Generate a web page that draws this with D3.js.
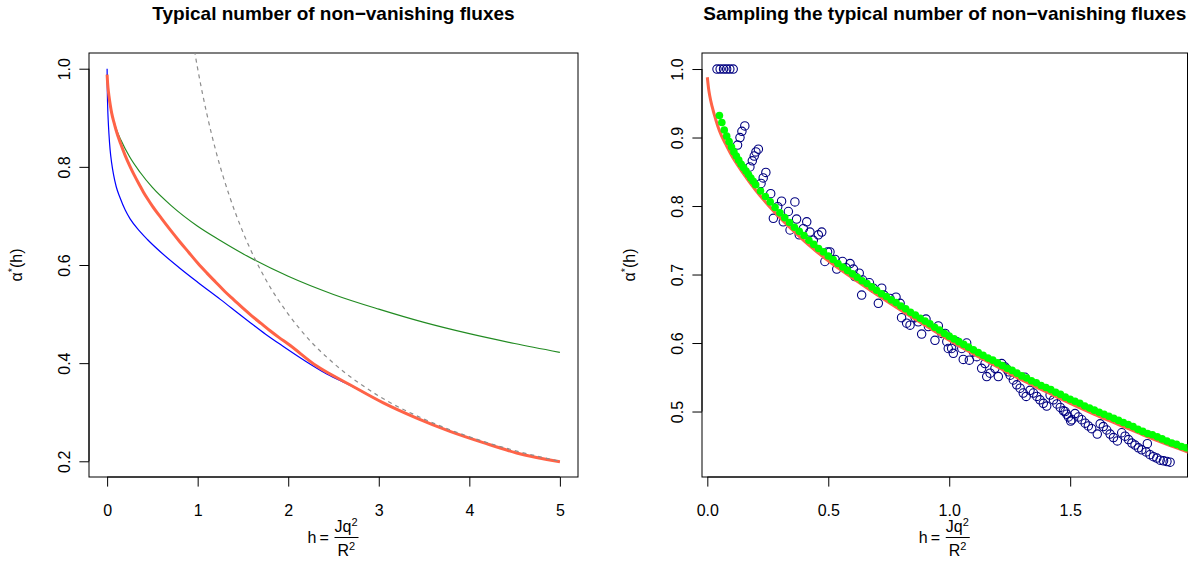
<!DOCTYPE html>
<html>
<head>
<meta charset="utf-8">
<script src="https://cdn.jsdelivr.net/npm/d3@7"></script>
<style>
  body { margin: 0; background: #fff; }
  svg { display: block; font-family: "Liberation Sans", Arial, sans-serif; }
</style>
</head>
<body>
<svg id="chart" width="1204" height="563"></svg>
<script>
// ---- data ----
// red curve alpha*(h), shared by both panels
const redH = [0, 0.005, 0.01, 0.02, 0.035, 0.05, 0.075, 0.1, 0.15, 0.2, 0.25, 0.3, 0.364, 0.4, 0.45, 0.5,
  0.6, 0.7, 0.8, 0.9, 1.0, 1.1, 1.2, 1.3, 1.4, 1.5, 1.6, 1.7, 1.8, 1.9, 2.0,
  2.315, 2.682, 3.05, 3.418, 3.786, 4.154, 4.522, 5.0];
const redV = [0.988, 0.972, 0.961, 0.945, 0.926, 0.910, 0.891, 0.874, 0.847, 0.823, 0.802, 0.783, 0.761, 0.749, 0.734, 0.720,
  0.695, 0.671, 0.648, 0.626, 0.604, 0.584, 0.565, 0.546, 0.529, 0.512, 0.496, 0.481, 0.466, 0.452, 0.439,
  0.394, 0.356, 0.319, 0.288, 0.261, 0.238, 0.217, 0.199];

// left panel: blue approximation
const blueH = [0, 0.002, 0.006, 0.012, 0.02, 0.033, 0.05, 0.07, 0.1, 0.143, 0.2, 0.254, 0.364, 0.445, 0.6, 0.8,
  1.0, 1.25, 1.5, 1.578, 1.75, 1.946, 2.2, 2.425, 2.682, 3.05, 3.418, 3.786, 4.154, 4.522, 5.0];
const blueV = [1.0, 0.96, 0.925, 0.895, 0.868, 0.835, 0.808, 0.785, 0.760, 0.737, 0.712, 0.694, 0.668, 0.652, 0.625, 0.594,
  0.565, 0.530, 0.494, 0.483, 0.459, 0.434, 0.403, 0.378, 0.355, 0.319, 0.288, 0.261, 0.238, 0.217, 0.199];

// left panel: green approximation
const greenLH = [0, 0.005, 0.015, 0.033, 0.06, 0.1, 0.151, 0.25, 0.364, 0.5, 0.714, 1.0, 1.25, 1.5, 2.0, 2.5, 3.0, 3.5, 4.0, 4.5, 5.0];
const greenLV = [0.988, 0.966, 0.946, 0.924, 0.902, 0.878, 0.855, 0.820, 0.789, 0.758, 0.720, 0.679, 0.650, 0.623, 0.577, 0.540, 0.510, 0.483, 0.460, 0.440, 0.422];

// left panel: dashed asymptote
const dashH = [0.95, 1.0, 1.1, 1.2, 1.35, 1.5, 1.75, 2.0, 2.25, 2.5, 3.0, 3.5, 4.0, 4.5, 5.0];
const dashV = [1.053, 1.0, 0.909, 0.833, 0.741, 0.667, 0.571, 0.5, 0.444, 0.4, 0.333, 0.286, 0.25, 0.222, 0.2];

// right panel: sampled values (open circles)
const sampH = [0.040, 0.053, 0.067, 0.080, 0.093, 0.107,
  0.125, 0.135, 0.143, 0.155, 0.176, 0.186, 0.194, 0.201, 0.211, 0.222, 0.231, 0.242,
  0.262, 0.273, 0.291, 0.307, 0.314, 0.335, 0.342, 0.362, 0.369, 0.380, 0.397, 0.411, 0.424, 0.438, 0.459, 0.473,
  0.486, 0.497, 0.507, 0.528, 0.535, 0.559, 0.573, 0.590, 0.604, 0.610, 0.628, 0.638, 0.642, 0.670, 0.686, 0.707,
  0.721, 0.730, 0.755, 0.780, 0.797, 0.803, 0.824, 0.838, 0.859, 0.872, 0.886, 0.904, 0.914, 0.941, 0.955, 0.969,
  0.983, 0.990, 0.996, 1.010, 1.017, 1.031, 1.052, 1.058, 1.072, 1.083, 1.100, 1.114, 1.134, 1.148, 1.155, 1.169,
  1.189, 1.203, 1.217, 1.231, 1.238, 1.245, 1.252, 1.265, 1.279, 1.293, 1.306, 1.313, 1.318, 1.334, 1.348, 1.362,
  1.375, 1.389, 1.403, 1.417, 1.431, 1.445, 1.459, 1.472, 1.479, 1.486, 1.493, 1.502, 1.507, 1.520, 1.534, 1.548,
  1.562, 1.575, 1.589, 1.612, 1.624, 1.637, 1.651, 1.665, 1.679, 1.695, 1.713, 1.727, 1.741, 1.755, 1.768, 1.782,
  1.796, 1.814, 1.819, 1.830, 1.844, 1.858, 1.872, 1.886, 1.900, 1.913];
const sampV = [1.0, 1.0, 1.0, 1.0, 1.0, 1.0,
  0.889, 0.900, 0.909, 0.917, 0.857, 0.866, 0.873, 0.879, 0.883, 0.833, 0.841, 0.849,
  0.818, 0.782, 0.799, 0.807, 0.777, 0.792, 0.765, 0.806, 0.781, 0.758, 0.767, 0.777, 0.762, 0.750, 0.758, 0.762,
  0.719, 0.733, 0.733, 0.722, 0.708, 0.719, 0.710, 0.716, 0.708, 0.697, 0.702, 0.670, 0.692, 0.688, 0.680, 0.658,
  0.680, 0.670, 0.665, 0.667, 0.658, 0.637, 0.629, 0.626, 0.637, 0.631, 0.613, 0.635, 0.624, 0.604, 0.625, 0.614,
  0.614, 0.602, 0.592, 0.592, 0.585, 0.602, 0.592, 0.576, 0.600, 0.575, 0.587, 0.580, 0.563, 0.570, 0.551, 0.556,
  0.563, 0.551, 0.570, 0.565, 0.562, 0.558, 0.553, 0.546, 0.539, 0.534, 0.527, 0.550, 0.522, 0.531, 0.527, 0.522,
  0.517, 0.512, 0.508, 0.524, 0.517, 0.511, 0.506, 0.501, 0.500, 0.496, 0.492, 0.486, 0.488, 0.497, 0.492, 0.488,
  0.483, 0.479, 0.475, 0.467, 0.482, 0.478, 0.473, 0.467, 0.462, 0.457, 0.469, 0.464, 0.459, 0.454, 0.451, 0.447,
  0.444, 0.441, 0.453, 0.437, 0.434, 0.432, 0.429, 0.428, 0.427, 0.426];

// right panel: averaged values (filled green dots)
const avgH = [0.05, 0.06, 0.07, 0.08, 0.09, 0.10, 0.11, 0.12, 0.13, 0.14, 0.15, 0.16, 0.17, 0.18, 0.19, 0.20,
  0.22, 0.24, 0.26, 0.28, 0.30, 0.32, 0.34, 0.36, 0.38, 0.40, 0.42, 0.44, 0.46, 0.48, 0.50,
  0.52, 0.54, 0.56, 0.58, 0.60, 0.62, 0.64, 0.66, 0.68, 0.70, 0.72, 0.74, 0.76, 0.78, 0.80,
  0.82, 0.84, 0.86, 0.88, 0.90, 0.92, 0.94, 0.96, 0.98, 1.00, 1.02, 1.04, 1.06, 1.08, 1.10,
  1.12, 1.14, 1.16, 1.18, 1.20, 1.22, 1.24, 1.26, 1.28, 1.30, 1.32, 1.34, 1.36, 1.38, 1.40,
  1.42, 1.44, 1.46, 1.48, 1.50, 1.52, 1.54, 1.56, 1.58, 1.60, 1.62, 1.64, 1.66, 1.68, 1.70,
  1.72, 1.74, 1.76, 1.78, 1.80, 1.82, 1.84, 1.86, 1.88, 1.90, 1.92, 1.94, 1.96, 1.98, 2.00];
const avgV = [0.932, 0.922, 0.911, 0.902, 0.894, 0.886, 0.879, 0.873, 0.867, 0.861, 0.856, 0.851, 0.846, 0.841, 0.836, 0.831,
  0.822, 0.814, 0.806, 0.798, 0.790, 0.783, 0.776, 0.769, 0.763, 0.757, 0.750, 0.744, 0.738, 0.733, 0.727,
  0.722, 0.716, 0.711, 0.706, 0.701, 0.696, 0.691, 0.687, 0.682, 0.677, 0.672, 0.668, 0.663, 0.659, 0.654,
  0.650, 0.645, 0.641, 0.636, 0.632, 0.628, 0.623, 0.619, 0.614, 0.610, 0.606, 0.602, 0.598, 0.594, 0.590,
  0.586, 0.582, 0.578, 0.575, 0.571, 0.567, 0.563, 0.560, 0.556, 0.552, 0.549, 0.545, 0.542, 0.538, 0.535,
  0.532, 0.528, 0.525, 0.521, 0.518, 0.515, 0.512, 0.508, 0.505, 0.502, 0.499, 0.496, 0.493, 0.490, 0.487,
  0.484, 0.481, 0.478, 0.474, 0.471, 0.468, 0.466, 0.463, 0.460, 0.457, 0.454, 0.452, 0.449, 0.447, 0.444];

const leftXTicks = [0, 1, 2, 3, 4, 5];
const leftYTicks = [0.2, 0.4, 0.6, 0.8, 1.0];
const rightXTicks = [0, 0.5, 1.0, 1.5];
const rightYTicks = [0.5, 0.6, 0.7, 0.8, 0.9, 1.0];

// ---- drawing ----
const svg = d3.select("#chart");
const plotTop = 53, plotBottom = 477;
const tickLen = 9.6;

function panel(id, x0, x1, xDom, yDom, xTicks, yTicks, xFmt, title) {
  const x = d3.scaleLinear().domain(xDom).range([x0, x1]);
  const y = d3.scaleLinear().domain(yDom).range([plotBottom, plotTop]);
  const g = svg.append("g");

  svg.append("clipPath").attr("id", id)
    .append("rect").attr("x", x0).attr("y", plotTop).attr("width", x1 - x0).attr("height", plotBottom - plotTop);

  g.append("g").attr("transform", `translate(0,${plotBottom})`)
    .call(d3.axisBottom(x).tickValues(xTicks).tickSize(tickLen).tickFormat(xFmt))
    .call(a => a.attr("font-family", null).attr("font-size", 16))
    .call(a => a.select(".domain").attr("d", `M${x(xTicks[0])},0H${x(xTicks[xTicks.length - 1])}`))
    .call(a => a.selectAll(".tick text").attr("y", 39).attr("dy", null).attr("fill", "#000"));

  g.append("g").attr("transform", `translate(${x0},0)`)
    .call(d3.axisLeft(y).tickValues(yTicks).tickSize(tickLen).tickFormat(d3.format(".1f")))
    .call(a => a.attr("font-family", null).attr("font-size", 16))
    .call(a => a.select(".domain").attr("d", `M0,${y(yTicks[0])}V${y(yTicks[yTicks.length - 1])}`))
    .call(a => a.selectAll(".tick text")
      .attr("x", null).attr("dy", null).attr("text-anchor", "middle").attr("fill", "#000")
      .attr("transform", "translate(-19,0) rotate(-90)"));

  g.append("rect").attr("x", x0).attr("y", plotTop).attr("width", x1 - x0).attr("height", plotBottom - plotTop)
    .attr("fill", "none").attr("stroke", "#000");

  svg.append("text").attr("x", (x0 + x1) / 2).attr("y", 20).attr("text-anchor", "middle")
    .attr("font-weight", "bold").attr("font-size", 19).text(title);

  // y label  alpha*(h)
  const yl = svg.append("text").attr("text-anchor", "middle").attr("font-size", 16)
    .attr("transform", `translate(${x0 - 67},${(plotTop + plotBottom) / 2}) rotate(-90)`);
  yl.append("tspan").text("\u03b1");
  yl.append("tspan").attr("dy", -6).attr("font-size", 11).text("*");
  yl.append("tspan").attr("dy", 6).text("(h)");

  // x label  h = Jq^2 / R^2
  const cx = (x0 + x1) / 2;
  const xl = svg.append("g").attr("font-size", 16);
  xl.append("text").attr("x", cx - 26).attr("y", 543).text("h");
  xl.append("text").attr("x", cx - 14).attr("y", 543).text("=");
  xl.append("line").attr("x1", cx + 1).attr("x2", cx + 25).attr("y1", 537.5).attr("y2", 537.5)
    .attr("stroke", "#000");
  const num = xl.append("text").attr("x", cx + 1).attr("y", 532);
  num.append("tspan").text("Jq");
  num.append("tspan").attr("dy", -6).attr("font-size", 11).text("2");
  const den = xl.append("text").attr("x", cx + 4).attr("y", 556);
  den.append("tspan").text("R");
  den.append("tspan").attr("dy", -6).attr("font-size", 11).text("2");

  return { x, y, clip: `url(#${id})` };
}

function curve(p, H, V, color, width, dash) {
  const line = d3.line().x(d => p.x(d[0])).y(d => p.y(d[1])).curve(d3.curveMonotoneX);
  svg.append("path").datum(d3.zip(H, V)).attr("clip-path", p.clip)
    .attr("d", line).attr("fill", "none").attr("stroke", color).attr("stroke-width", width)
    .attr("stroke-dasharray", dash || null);
}

const L = panel("clipL", 89, 578, [-0.2, 5.2], [0.168, 1.032], leftXTicks, leftYTicks, d3.format("d"),
  "Typical number of non\u2212vanishing fluxes");
curve(L, greenLH, greenLV, "#228b22", 1.2);
curve(L, blueH, blueV, "#0000ff", 1.2);
curve(L, redH, redV, "#ff6347", 3);
curve(L, dashH, dashV, "#8c8c8c", 1.2, "4,4");

const R = panel("clipR", 702, 1187.5, [-0.022, 1.985], [0.4044, 1.0234], rightXTicks, rightYTicks, d3.format(".1f"),
  "Sampling the typical number of non\u2212vanishing fluxes");

svg.append("g").attr("clip-path", R.clip).selectAll("circle")
  .data(d3.zip(sampH, sampV)).join("circle")
  .attr("cx", d => R.x(d[0])).attr("cy", d => R.y(d[1])).attr("r", 4.2)
  .attr("fill", "none").attr("stroke", "#000080").attr("stroke-width", 1.1);

curve(R, redH, redV, "#ff6347", 3);

svg.append("g").attr("clip-path", R.clip).selectAll("circle")
  .data(d3.zip(avgH, avgV)).join("circle")
  .attr("cx", d => R.x(d[0])).attr("cy", d => R.y(d[1])).attr("r", 3.8)
  .attr("fill", "#00ff00");
</script>
</body>
</html>
